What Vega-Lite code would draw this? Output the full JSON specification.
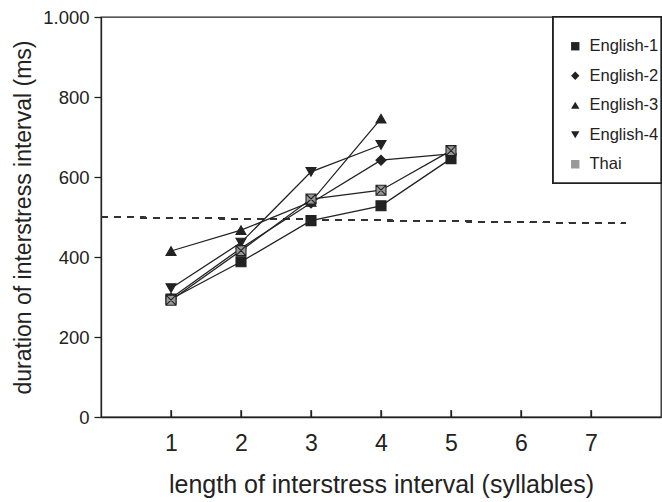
{
  "$schema": "https://vega.github.io/schema/vega-lite/v6.json",
  "width": 560,
  "height": 400,
  "autosize": "none",
  "padding": {"left": 101, "top": 17, "right": 1, "bottom": 85},
  "background": "white",
  "config": {
    "font": "Liberation Sans",
    "view": {"stroke": "#222", "strokeWidth": 1.3},
    "axis": {
      "domainColor": "#222",
      "domainWidth": 1.3,
      "tickColor": "#222",
      "tickWidth": 1.3,
      "labelColor": "#222",
      "titleColor": "#222",
      "titleFontWeight": "normal",
      "grid": false
    },
    "legend": {
      "symbolStrokeColor": "#222",
      "symbolStrokeWidth": 1
    }
  },
  "datasets": {
    "series": [
      {"series": "English-1", "syllables": 1, "duration": 295},
      {"series": "English-1", "syllables": 2, "duration": 388},
      {"series": "English-1", "syllables": 3, "duration": 491},
      {"series": "English-1", "syllables": 4, "duration": 528},
      {"series": "English-1", "syllables": 5, "duration": 646},
      {"series": "English-2", "syllables": 1, "duration": 297},
      {"series": "English-2", "syllables": 2, "duration": 422},
      {"series": "English-2", "syllables": 3, "duration": 535},
      {"series": "English-2", "syllables": 4, "duration": 642},
      {"series": "English-2", "syllables": 5, "duration": 658},
      {"series": "English-3", "syllables": 1, "duration": 415},
      {"series": "English-3", "syllables": 2, "duration": 467},
      {"series": "English-3", "syllables": 3, "duration": 538},
      {"series": "English-3", "syllables": 4, "duration": 746},
      {"series": "English-4", "syllables": 1, "duration": 322},
      {"series": "English-4", "syllables": 2, "duration": 436},
      {"series": "English-4", "syllables": 3, "duration": 613},
      {"series": "English-4", "syllables": 4, "duration": 680},
      {"series": "Thai", "syllables": 1, "duration": 292},
      {"series": "Thai", "syllables": 2, "duration": 416},
      {"series": "Thai", "syllables": 3, "duration": 545},
      {"series": "Thai", "syllables": 4, "duration": 567},
      {"series": "Thai", "syllables": 5, "duration": 666}
    ],
    "ticks": [
      {"syllables": 1, "mid": 8.5},
      {"syllables": 2, "mid": 8.5},
      {"syllables": 3, "mid": 8.5},
      {"syllables": 4, "mid": 8.5},
      {"syllables": 5, "mid": 8.5},
      {"syllables": 6, "mid": 8.5},
      {"syllables": 7, "mid": 8.5}
    ]
  },
  "layer": [
    {
      "data": {"name": "series"},
      "mark": {"type": "rect", "fill": "white", "stroke": "#222", "strokeWidth": 1.3},
      "encoding": {
        "x": {
          "datum": 6.46,
          "type": "quantitative",
          "scale": {"domain": [0, 8], "nice": false, "zero": false},
          "axis": {
            "values": [1, 2, 3, 4, 5, 6, 7],
            "format": "d",
            "title": "length of interstress interval (syllables)",
            "titleFontSize": 25,
            "titlePadding": 17,
            "labelFontSize": 23,
            "ticks": true,
            "tickSize": -7,
            "zindex": 1,
            "labelPadding": 22,
            "labelFlush": false
          }
        },
        "x2": {"datum": 8},
        "y": {
          "datum": 585,
          "type": "quantitative",
          "scale": {"domain": [0, 1000], "nice": false},
          "axis": {
            "values": [0, 200, 400, 600, 800, 1000],
            "labelExpr": "datum.value == 1000 ? '1.000' : datum.label",
            "title": "duration of interstress interval (ms)",
            "titleFontSize": 23,
            "titlePadding": 7,
            "labelFontSize": 18.5,
            "tickSize": 7,
            "labelPadding": 5,
            "labelFlush": false
          }
        },
        "y2": {"datum": 1000}
      }
    },
    {
      "data": {"name": "series"},
      "mark": {"type": "rule", "strokeDash": [7, 6], "color": "#333", "strokeWidth": 1.3},
      "encoding": {
        "x": {"datum": 0, "type": "quantitative"},
        "x2": {"datum": 7.5},
        "y": {"datum": 500, "type": "quantitative"},
        "y2": {"datum": 484}
      }
    },
    {
      "data": {"name": "series"},
      "mark": {"type": "line", "color": "#222", "strokeWidth": 1.3},
      "encoding": {
        "x": {"field": "syllables", "type": "quantitative"},
        "y": {"field": "duration", "type": "quantitative"},
        "detail": {"field": "series"}
      }
    },
    {
      "data": {"name": "series"},
      "mark": {"type": "point", "filled": true, "stroke": "#222", "strokeWidth": 1.1, "opacity": 1, "fillOpacity": 1, "size": 100},
      "encoding": {
        "x": {"field": "syllables", "type": "quantitative"},
        "y": {"field": "duration", "type": "quantitative"},
        "shape": {
          "field": "series",
          "type": "nominal",
          "scale": {"domain": ["English-1", "English-2", "English-3", "English-4", "Thai"], "range": ["square", "diamond", "triangle-up", "triangle-down", "M-1,-1H1V1H-1Z M-1,-1L1,1 M1,-1L-1,1"]},
          "legend": {
            "orient": "none",
            "legendX": 466,
            "legendY": 21,
            "title": null,
            "padding": 0,
            "labelFontSize": 16.5,
            "labelColor": "#222",
            "labelOffset": 6,
            "symbolSize": 70,
            "rowPadding": 12.5
          }
        },
        "fill": {
          "field": "series",
          "type": "nominal",
          "scale": {"domain": ["English-1", "English-2", "English-3", "English-4", "Thai"], "range": ["#222", "#222", "#222", "#222", "#999999"]},
          "legend": {
            "orient": "none",
            "legendX": 466,
            "legendY": 21,
            "title": null,
            "padding": 0,
            "labelFontSize": 16.5,
            "labelColor": "#222",
            "labelOffset": 6,
            "symbolSize": 70,
            "rowPadding": 12.5
          }
        }
      }
    },
    {
      "data": {"name": "ticks"},
      "mark": {"type": "tick", "orient": "vertical", "color": "#222", "thickness": 1.3, "size": 7, "opacity": 1},
      "encoding": {
        "x": {"field": "syllables", "type": "quantitative"},
        "y": {"field": "mid", "type": "quantitative"}
      }
    }
  ]
}
